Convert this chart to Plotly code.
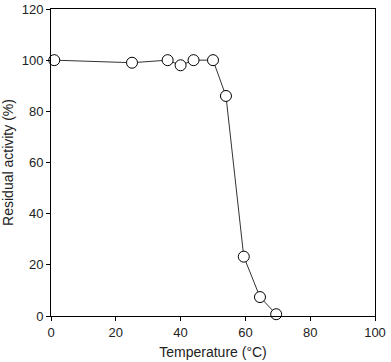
import plotly.graph_objects as go

temperature = [1, 25, 36, 40, 44, 50, 54, 59.5, 64.5, 69.5]
residual_activity = [100, 99, 100, 98, 100, 100, 86, 23.2, 7.4, 0.7]

x_ticks = [0, 20, 40, 60, 80, 100]
y_ticks = [0, 20, 40, 60, 80, 100, 120]

fig = go.Figure()
fig.add_trace(go.Scatter(
    x=temperature, y=residual_activity, mode="lines+markers",
    line=dict(color="#333333", width=1),
    marker=dict(symbol="circle", size=11, color="white",
                line=dict(color="black", width=1)),
    cliponaxis=False, showlegend=False,
))

font = dict(family="Liberation Sans, Arial, sans-serif", size=13, color="#222222")
fig.update_layout(
    width=391, height=362,
    margin=dict(l=51, r=16, t=9, b=46, autoexpand=False),
    paper_bgcolor="white", plot_bgcolor="white",
    font=font,
    xaxis=dict(range=[0, 100], tickvals=x_ticks, ticks="outside", ticklen=4,
               tickcolor="black", showline=True, linecolor="black", linewidth=1,
               mirror=True, showgrid=False, zeroline=False, automargin=False,
               title=dict(text="Temperature (°C)", standoff=8,
                          font=dict(size=14))),
    yaxis=dict(range=[0, 120], tickvals=y_ticks, ticks="outside", ticklen=4,
               tickcolor="black", showline=True, linecolor="black", linewidth=1,
               mirror=True, showgrid=False, zeroline=False, automargin=False,
               title=dict(text="Residual activity (%)", standoff=4,
                          font=dict(size=14))),
)
fig.write_html("out.html", config={"displayModeBar": False},
               post_script="document.body.style.margin='0';document.body.style.overflow='hidden';")
